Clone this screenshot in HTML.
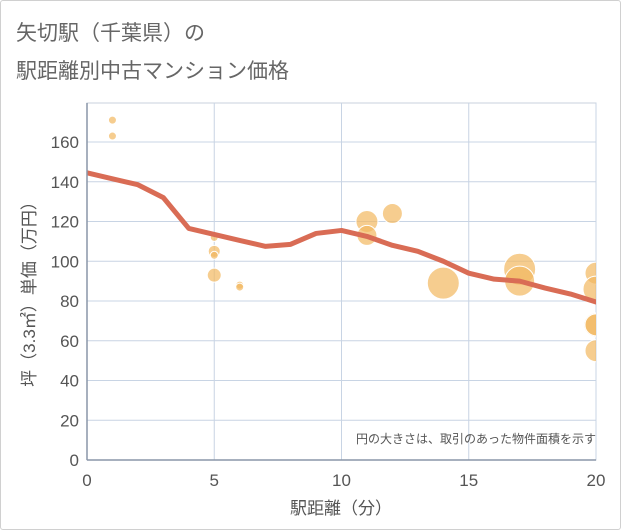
<!DOCTYPE html>
<html><head><meta charset="utf-8">
<style>
html,body{margin:0;padding:0;background:#fff;}
body{width:621px;height:530px;overflow:hidden;font-family:"Liberation Sans","Noto Sans CJK JP",sans-serif;}
#frame{position:absolute;left:0;top:0;width:619px;height:528px;border:1px solid #d0d0d0;border-radius:3px;}
</style></head>
<body>
<div id="frame"></div>
<svg id="chart" width="621" height="530" style="position:absolute;left:0;top:0">
<text x="16" y="40" font-size="21" fill="#666">矢切駅（千葉県）の</text>
<text x="16" y="78" font-size="21" fill="#666">駅距離別中古マンション価格</text>
<defs><clipPath id="pc"><rect x="87" y="103" width="509" height="357"/></clipPath></defs>
<g id="grid"></g>
<g id="bubbles" clip-path="url(#pc)"></g>
<g id="trend" clip-path="url(#pc)"></g>
<g id="axes"></g>
<text x="596" y="443" font-size="12" fill="#555" text-anchor="end">円の大きさは、取引のあった物件面積を示す</text>
<text x="341" y="514" font-size="17" fill="#555" text-anchor="middle">駅距離（分）</text>
<text transform="translate(35,290) rotate(-90)" font-size="17" fill="#555" text-anchor="middle">坪（3.3㎡）単価（万円）</text>
</svg>
<script>
const xTicks=[0,5,10,15,20];
const yTicks=[0,20,40,60,80,100,120,140,160];
const trendX=[0,1,2,3,4,5,6,7,8,9,10,11,12,13,14,15,16,17,18,19,20];
const trendY=[144.5,141.5,138.5,132,116.5,113.5,110.5,107.5,108.5,114,115.5,112.5,108,105,100,94,91,90,86.5,83.5,79.5];
const bubbleX=[1,1,5,5,5,5,6,6,11,11,12,14,17,17,20,20,20,20,20];
const bubbleY=[171,163,112,105,103,93,88,87,120,113,124,89,96,90,94,86,68,68,55];
const bubbleR=[4,4,4,6,4,7,4,4,11,10,10,16,16,15,11,13,12,11,11];
const X0=87,X1=596,Y0=460,Y1=142;
const sx=v=>X0+(v-0)/(20-0)*(X1-X0);
const sy=v=>Y0-(v/160)*(Y0-Y1);
const NS="http://www.w3.org/2000/svg";
function mk(t,a,p){const e=document.createElementNS(NS,t);for(const k in a)e.setAttribute(k,a[k]);p.appendChild(e);return e;}
const grid=document.getElementById('grid'),axes=document.getElementById('axes');
mk('rect',{x:X0,y:103,width:X1-X0,height:Y0-103,fill:'none',stroke:'#c8d2de','stroke-width':1},grid);
yTicks.forEach(v=>{
  const l=mk('line',{x1:X0,x2:X1,y1:sy(v),y2:sy(v),stroke:'#c8d4e4','stroke-width':1},grid);
  
  
  const t=mk('text',{x:X0-8,y:sy(v)+6,'font-size':17,fill:'#555','text-anchor':'end'},axes);
  t.textContent=v;
  
  
});
xTicks.forEach(v=>{
  const l=mk('line',{x1:sx(v),x2:sx(v),y1:103,y2:Y0,stroke:'#c8d4e4','stroke-width':1},grid);
  
  
  const t=mk('text',{x:sx(v),y:486,'font-size':17,fill:'#555','text-anchor':'middle'},axes);
  t.textContent=v;
  
  
});
mk('line',{x1:X0,x2:X1,y1:Y0,y2:Y0,stroke:'#8a96a8','stroke-width':1.5},axes);
mk('line',{x1:X0,x2:X0,y1:103,y2:Y0,stroke:'#8a96a8','stroke-width':1.5},axes);
const bg=document.getElementById('bubbles');
bubbleX.forEach((v,i)=>{
  const c=mk('circle',{cx:sx(v),cy:sy(bubbleY[i]),r:bubbleR[i],fill:'#f2b860','fill-opacity':0.7,stroke:'#fff','stroke-width':1},bg);
  
  
});
const tg=document.getElementById('trend');
const p=mk('polyline',{points:trendX.map((v,i)=>sx(v)+','+sy(trendY[i])).join(' '),fill:'none',stroke:'#d96c55','stroke-width':5,'stroke-linejoin':'round','stroke-linecap':'round'},tg);


</script>
</body></html>
